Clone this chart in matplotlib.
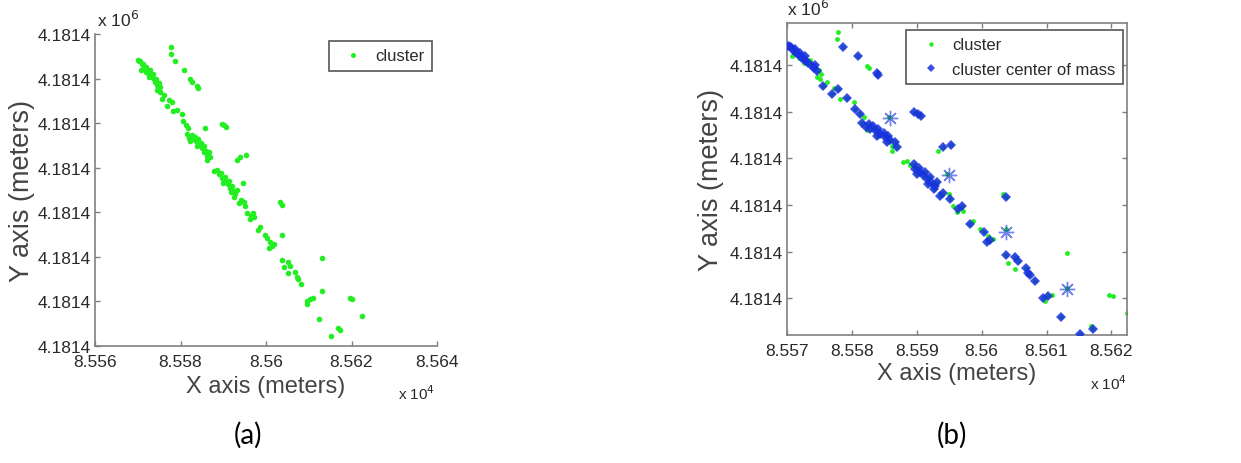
import matplotlib
matplotlib.use("Agg")
import matplotlib.pyplot as plt
from matplotlib.ticker import FuncFormatter, FixedLocator

# ---------------- data (meters) ----------------
# raw GPS points (shown green in both panels)
cluster_x = [
    85577.8, 85577.7, 85578.7, 85580.9, 85582.3, 85582.7, 85583.8, 85584.1,
    85589.6, 85590.2, 85590.7,
    85593.3, 85594.0, 85595.3,
    85603.3, 85603.7,
    85585.7, 85594.7, 85603.8, 85613.1,
    85613.1,
    85619.7, 85620.2, 85622.4,
    85612.3, 85615.1, 85617.2, 85616.9,
    # band A
    85570.0, 85570.3, 85570.6, 85570.9, 85571.2, 85571.4, 85571.7, 85572.0,
    85572.2, 85572.5, 85572.8, 85573.0, 85573.3, 85573.5, 85573.8, 85574.1,
    85574.3, 85574.6, 85574.9, 85575.2, 85570.8, 85571.9, 85572.6,
    # band B
    85575.6, 85576.9, 85577.9, 85578.2, 85579.2, 85580.5, 85576.2, 85575.1,
    85574.6, 85577.2, 85580.3, 85581.3, 85581.8,
    # band C
    85581.5, 85582.1, 85582.6, 85582.8, 85583.3, 85583.6, 85584.1, 85584.4,
    85584.9, 85585.1, 85585.6, 85585.9, 85586.2, 85586.7, 85586.9, 85585.4,
    85586.2, 85583.8, 85582.3,
    # band D
    85587.9, 85588.5, 85589.0, 85589.5, 85589.7, 85590.3, 85590.5, 85591.0,
    85591.3, 85591.5, 85592.1, 85592.3, 85592.8, 85593.1, 85592.6, 85591.8,
    85590.0,
    # band E
    85593.6, 85594.1, 85594.9, 85595.1, 85595.6, 85596.4, 85596.9, 85597.2,
    85596.2, 85598.2, 85598.7, 85599.7, 85600.3, 85600.8, 85601.3, 85601.8,
    85601.0,
    # band F
    85603.7, 85604.1, 85605.1, 85605.2, 85605.6, 85606.8, 85607.2, 85607.5,
    85608.2, 85609.5, 85610.3, 85610.9, 85609.7,
]
cluster_y = [
    4181446.2, 4181445.3, 4181444.3, 4181443.1, 4181441.9, 4181441.6, 4181441.0, 4181440.7,
    4181435.9, 4181435.7, 4181435.5,
    4181431.0, 4181431.4, 4181431.7,
    4181425.4, 4181425.0,
    4181435.3, 4181428.0, 4181420.9, 4181413.4,
    4181417.8,
    4181412.4, 4181412.3, 4181410.1,
    4181409.6, 4181407.4, 4181408.1, 4181408.4,
    # band A
    4181444.5, 4181444.4, 4181444.3, 4181443.9, 4181444.0, 4181443.6, 4181443.4, 4181443.6,
    4181443.0, 4181442.8, 4181443.1, 4181442.5, 4181442.2, 4181442.6, 4181441.9, 4181441.6,
    4181442.0, 4181441.2, 4181441.4, 4181440.8, 4181443.2, 4181442.9, 4181442.2,
    # band B
    4181439.3, 4181438.3, 4181438.9, 4181437.6, 4181437.8, 4181436.3, 4181439.8, 4181440.2,
    4181440.5, 4181439.1, 4181437.2, 4181435.7, 4181435.3,
    # band C
    4181434.6, 4181434.0, 4181434.4, 4181433.8, 4181434.2, 4181433.6, 4181433.8, 4181433.1,
    4181433.3, 4181432.7, 4181432.9, 4181432.3, 4181431.6, 4181432.1, 4181431.4, 4181432.1,
    4181431.0, 4181432.9, 4181433.6,
    # band D
    4181429.5, 4181429.7, 4181429.1, 4181429.3, 4181428.6, 4181428.8, 4181428.2, 4181427.8,
    4181428.2, 4181427.3, 4181427.6, 4181426.9, 4181426.5, 4181427.0, 4181426.1, 4181426.7,
    4181428.0,
    # band E
    4181425.2, 4181425.6, 4181425.4, 4181424.8, 4181423.9, 4181423.5, 4181423.9, 4181423.3,
    4181423.1, 4181421.6, 4181422.0, 4181420.9, 4181420.5, 4181419.2, 4181419.5, 4181419.7,
    4181420.0,
    # band F
    4181417.6, 4181416.6, 4181415.8, 4181417.3, 4181416.8, 4181415.9, 4181415.3, 4181415.0,
    4181414.3, 4181412.0, 4181412.3, 4181412.4, 4181411.7,
]

# cluster centers of mass (blue diamonds, panel b)
com_x = [
    85578.7, 85580.9, 85583.8, 85584.1, 85589.6, 85590.2, 85590.7, 85594.0, 85595.3,
    85603.7, 85612.3, 85615.1, 85617.2,
    85570.0, 85570.3, 85570.6, 85570.9, 85571.2, 85571.4, 85571.7, 85572.0, 85572.2,
    85572.5, 85572.8, 85573.0, 85573.3, 85573.8, 85574.1, 85574.3, 85574.6,
    85575.6, 85576.9, 85577.9, 85579.2, 85580.5, 85581.3,
    85581.5, 85582.1, 85582.6, 85582.8, 85583.3, 85583.6, 85584.1, 85584.4, 85584.9,
    85585.1, 85585.6, 85585.9, 85586.7, 85586.9, 85585.4, 85583.8,
    85589.5, 85589.7, 85590.3, 85590.5, 85591.0, 85591.3, 85591.5, 85592.1, 85592.3,
    85592.8, 85593.1, 85592.6, 85591.8, 85590.0,
    85593.6, 85594.1, 85595.1, 85596.4, 85596.9, 85598.2, 85600.3, 85600.8, 85601.3,
    85603.7, 85605.2, 85605.6, 85606.8, 85607.2, 85607.5, 85608.2, 85609.5, 85610.3,
]
com_y = [
    4181444.3, 4181443.1, 4181441.0, 4181440.7, 4181435.9, 4181435.7, 4181435.5, 4181431.4, 4181431.7,
    4181425.0, 4181409.6, 4181407.4, 4181408.1,
    4181444.5, 4181444.4, 4181444.3, 4181443.9, 4181444.0, 4181443.6, 4181443.4, 4181443.6, 4181443.0,
    4181442.8, 4181443.1, 4181442.5, 4181442.2, 4181441.9, 4181441.6, 4181442.0, 4181441.2,
    4181439.3, 4181438.3, 4181438.9, 4181437.8, 4181436.3, 4181435.7,
    4181434.6, 4181434.0, 4181434.4, 4181433.8, 4181434.2, 4181433.6, 4181433.8, 4181433.1, 4181433.3,
    4181432.7, 4181432.9, 4181432.3, 4181432.1, 4181431.4, 4181432.1, 4181432.9,
    4181429.3, 4181428.6, 4181428.8, 4181428.2, 4181427.8, 4181428.2, 4181427.3, 4181427.6, 4181426.9,
    4181426.5, 4181427.0, 4181426.1, 4181426.7, 4181428.0,
    4181425.2, 4181425.6, 4181424.8, 4181423.5, 4181423.9, 4181421.6, 4181420.5, 4181419.2, 4181419.5,
    4181417.6, 4181417.3, 4181416.8, 4181415.9, 4181415.3, 4181415.0, 4181414.3, 4181412.0, 4181412.3,
]

# asterisk markers (panel b)
star_x = [85585.8, 85594.9, 85603.8, 85613.1]
star_y = [4181435.2, 4181427.9, 4181420.6, 4181413.2]

# ticks
a_xticks = [85560, 85580, 85600, 85620, 85640]
a_yticks = [4181406, 4181412, 4181418, 4181424, 4181430, 4181436, 4181442, 4181448]
b_xticks = [85570, 85580, 85590, 85600, 85610, 85620]
b_yticks = [4181412, 4181418, 4181424, 4181430, 4181436, 4181442]

legend_labels = ["cluster", "cluster center of mass"]
panel_labels = ["(a)", "(b)"]

# ---------------- style ----------------
GREEN = "#22ee22"
BLUE = "#1830e0"
TXT = "#2a2a2a"
LAB = "#444444"
SPINE = "#808080"
plt.rcParams["font.family"] = ["Liberation Sans", "DejaVu Sans"]

W, H = 1241, 464
fig = plt.figure(figsize=(W / 100, H / 100), dpi=100)


def px_axes(l, t, r, b):
    return fig.add_axes([l / W, 1 - b / H, (r - l) / W, (b - t) / H])


xfmt = FuncFormatter(lambda v, p: f"{v / 1e4:g}")
yfmt = FuncFormatter(lambda v, p: f"{v / 1e6:.4f}")


def style(ax, box):
    for s in ax.spines.values():
        s.set_color(SPINE)
        s.set_linewidth(1.2)
    if not box:
        ax.spines["top"].set_visible(False)
        ax.spines["right"].set_visible(False)
    ax.tick_params(direction="in", length=3.5, width=1, color=SPINE,
                   labelsize=12.5, labelcolor=TXT, top=box, right=box)
    ax.tick_params(axis="x", pad=6)
    ax.tick_params(axis="y", pad=3)
    ax.xaxis.set_major_formatter(xfmt)
    ax.yaxis.set_major_formatter(yfmt)


# ---- panel (a)
axa = px_axes(95, 35, 437, 347)
axa.plot(cluster_x, cluster_y, "o", ms=4.0, mew=0, color=GREEN, label=legend_labels[0])
axa.set_xlim(85560, 85640)
axa.set_ylim(4181406, 4181448)
axa.xaxis.set_major_locator(FixedLocator(a_xticks))
axa.yaxis.set_major_locator(FixedLocator(a_yticks))
style(axa, box=False)
axa.set_xlabel("X axis (meters)", fontsize=17, color=LAB, labelpad=4)
axa.set_ylabel("Y axis (meters)", fontsize=19.5, color=LAB, labelpad=2)
leg = axa.legend(loc="upper right", bbox_to_anchor=(0.985, 0.978), borderaxespad=0,
                 fontsize=12, fancybox=False, framealpha=1, handlelength=2,
                 handletextpad=0.3, borderpad=0.45, markerscale=0.9)
leg.get_frame().set_edgecolor("#555555")
leg.get_frame().set_linewidth(1.2)
for t in leg.get_texts():
    t.set_color(TXT)

# ---- panel (b)
axb = px_axes(787, 24, 1127, 336)
axb.plot(cluster_x, cluster_y, "o", ms=3.5, mew=0, color=GREEN, label=legend_labels[0], zorder=2)
axb.plot(com_x, com_y, "D", ms=5.0, mew=0, color=BLUE, alpha=0.85, label=legend_labels[1], zorder=3)
axb.plot(star_x, star_y, marker=(8, 2, 0), ls="none", ms=11, mew=1.0, color=BLUE, alpha=0.6, zorder=3)
axb.set_xlim(85570, 85622.4)
axb.set_ylim(4181407.3, 4181447.4)
axb.xaxis.set_major_locator(FixedLocator(b_xticks))
axb.yaxis.set_major_locator(FixedLocator(b_yticks))
style(axb, box=True)
axb.set_xlabel("X axis (meters)", fontsize=17, color=LAB, labelpad=3)
axb.set_ylabel("Y axis (meters)", fontsize=19.5, color=LAB, labelpad=4)
legb = axb.legend(loc="upper right", bbox_to_anchor=(0.988, 0.978), borderaxespad=0,
                  fontsize=12, fancybox=False, framealpha=1, handlelength=2,
                  handletextpad=0.3, borderpad=0.45, labelspacing=0.55, markerscale=0.9)
legb.get_frame().set_edgecolor("#555555")
legb.get_frame().set_linewidth(1.2)
for t in legb.get_texts():
    t.set_color(TXT)

# ---- offset texts
fig.text(97 / W, 1 - 27 / H, r"x 10$^{6}$", fontsize=12.5, color=TXT, ha="left", va="baseline")
fig.text(787 / W, 1 - 16 / H, r"x 10$^{6}$", fontsize=12.5, color=TXT, ha="left", va="baseline")
fig.text(398 / W, 1 - 400 / H, r"x 10$^{4}$", fontsize=11, color=TXT, ha="left", va="baseline")
fig.text(1090 / W, 1 - 390 / H, r"x 10$^{4}$", fontsize=11, color=TXT, ha="left", va="baseline")

# ---- panel labels
fig.text(248 / W, 1 - 435 / H, panel_labels[0], fontsize=20, family=["Lato", "DejaVu Sans"],
         ha="center", va="center", color="black")
fig.text(952 / W, 1 - 435 / H, panel_labels[1], fontsize=20, family=["Lato", "DejaVu Sans"],
         ha="center", va="center", color="black")

fig.savefig("out.png", dpi=100)
